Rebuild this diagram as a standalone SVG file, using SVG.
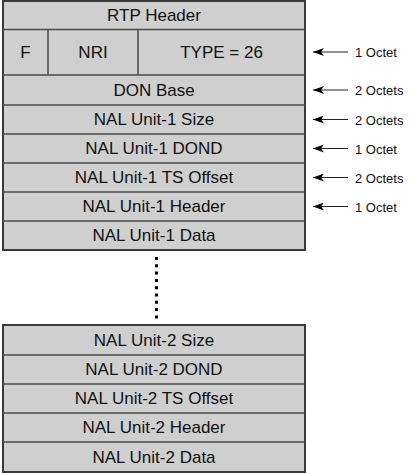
<svg xmlns="http://www.w3.org/2000/svg" width="420" height="474" viewBox="0 0 420 474">
<defs>
<style>
.box{fill:#cfcfcf;stroke:#3a3a3a;stroke-width:2}
.sep{stroke:#4a4a4a;stroke-width:1.5}
.t{font-family:"Liberation Sans",Arial,sans-serif;font-size:17px;fill:#111;text-anchor:middle;dominant-baseline:central}
.lbl{font-family:"Liberation Sans",Arial,sans-serif;font-size:13px;fill:#111;dominant-baseline:central}
.arr{stroke:#222;stroke-width:1.2;fill:none;marker-start:url(#ah)}
</style>
<marker id="ah" viewBox="0 0 11 8" refX="0" refY="4" markerWidth="11" markerHeight="8" markerUnits="userSpaceOnUse" orient="auto">
<path d="M0,4 L11,0 L8,4 L11,8 Z" fill="#000"/>
</marker>
</defs>
<rect x="0" y="0" width="420" height="474" fill="#fff"/>
<g id="packet1">
<rect class="box" x="3" y="1" width="302" height="249"/>
<g id="rtp-header"><text class="t" x="154" y="15.5">RTP Header</text></g>
<line class="sep" x1="3" y1="29.5" x2="305" y2="29.5"/>
<g id="fu-indicator">
<line class="sep" x1="48" y1="29.5" x2="48" y2="75"/>
<line class="sep" x1="138" y1="29.5" x2="138" y2="75"/>
<text class="t" x="25.5" y="52.5">F</text>
<text class="t" x="93" y="52.5">NRI</text>
<text class="t" x="221.5" y="52.5">TYPE = 26</text>
</g>
<line class="sep" x1="3" y1="75" x2="305" y2="75"/>
<g id="don-base"><text class="t" x="154" y="90">DON Base</text></g>
<line class="sep" x1="3" y1="105" x2="305" y2="105"/>
<g id="nal1-size"><text class="t" x="154" y="119.5">NAL Unit-1 Size</text></g>
<line class="sep" x1="3" y1="134" x2="305" y2="134"/>
<g id="nal1-dond"><text class="t" x="154" y="148.5">NAL Unit-1 DOND</text></g>
<line class="sep" x1="3" y1="163" x2="305" y2="163"/>
<g id="nal1-ts"><text class="t" x="154" y="177.5">NAL Unit-1 TS Offset</text></g>
<line class="sep" x1="3" y1="192" x2="305" y2="192"/>
<g id="nal1-header"><text class="t" x="154" y="206.5">NAL Unit-1 Header</text></g>
<line class="sep" x1="3" y1="221" x2="305" y2="221"/>
<g id="nal1-data"><text class="t" x="154" y="235.5">NAL Unit-1 Data</text></g>
</g>
<g id="ellipsis">
<line x1="156.5" y1="257" x2="156.5" y2="320" stroke="#000" stroke-width="3" stroke-dasharray="3 4.3"/>
</g>
<g id="packet2">
<rect class="box" x="3" y="325" width="302" height="147"/>
<g id="nal2-size"><text class="t" x="154" y="340">NAL Unit-2 Size</text></g>
<line class="sep" x1="3" y1="355" x2="305" y2="355"/>
<g id="nal2-dond"><text class="t" x="154" y="369.5">NAL Unit-2 DOND</text></g>
<line class="sep" x1="3" y1="384" x2="305" y2="384"/>
<g id="nal2-ts"><text class="t" x="154" y="398.5">NAL Unit-2 TS Offset</text></g>
<line class="sep" x1="3" y1="413" x2="305" y2="413"/>
<g id="nal2-header"><text class="t" x="154" y="427.5">NAL Unit-2 Header</text></g>
<line class="sep" x1="3" y1="442" x2="305" y2="442"/>
<g id="nal2-data"><text class="t" x="154" y="457">NAL Unit-2 Data</text></g>
</g>
<g id="connectors">
<line class="arr" x1="313" y1="52" x2="348" y2="52"/>
<line class="arr" x1="313" y1="90" x2="348" y2="90"/>
<line class="arr" x1="313" y1="119.5" x2="348" y2="119.5"/>
<line class="arr" x1="313" y1="148.5" x2="348" y2="148.5"/>
<line class="arr" x1="313" y1="177.5" x2="348" y2="177.5"/>
<line class="arr" x1="313" y1="206.5" x2="348" y2="206.5"/>
</g>
<g id="labels">
<text class="lbl" x="355" y="52.5">1 Octet</text>
<text class="lbl" x="355" y="90.5">2 Octets</text>
<text class="lbl" x="355" y="120">2 Octets</text>
<text class="lbl" x="355" y="149">1 Octet</text>
<text class="lbl" x="355" y="178">2 Octets</text>
<text class="lbl" x="355" y="207">1 Octet</text>
</g>
</svg>
